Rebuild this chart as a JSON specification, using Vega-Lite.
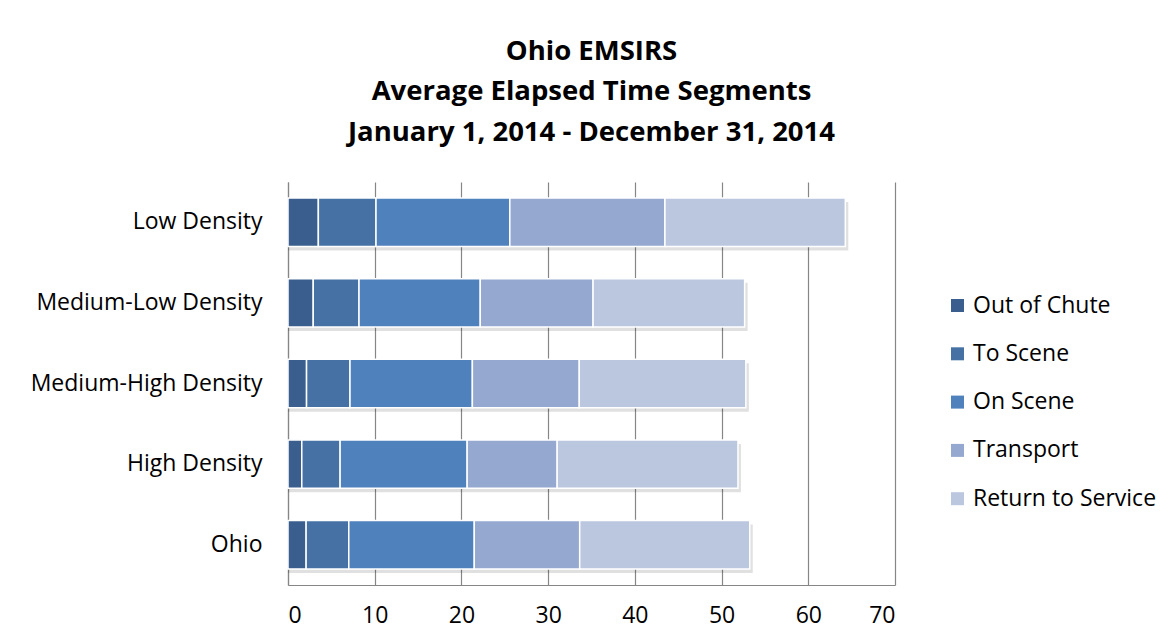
{
  "$schema": "https://vega.github.io/schema/vega-lite/v6.json",
  "autosize": {"type": "none"},
  "width": 607,
  "height": 403,
  "padding": {"left": 288, "top": 182, "right": 277, "bottom": 58},
  "background": "white",
  "title": {
    "text": ["Ohio EMSIRS", "Average Elapsed Time Segments", "January 1, 2014 - December 31, 2014"],
    "font": "Open Sans",
    "fontSize": 27.5,
    "fontWeight": "bold",
    "color": "#000000",
    "lineHeight": 40.5,
    "anchor": "middle",
    "offset": 36
  },
  "config": {
    "view": {"stroke": null},
    "font": "Open Sans"
  },
  "data": {
    "values": [
      {"area": "Low Density", "segment": "Out of Chute", "seq": 1, "minutes": 3.5},
      {"area": "Low Density", "segment": "To Scene", "seq": 2, "minutes": 6.65},
      {"area": "Low Density", "segment": "On Scene", "seq": 3, "minutes": 15.43},
      {"area": "Low Density", "segment": "Transport", "seq": 4, "minutes": 17.89},
      {"area": "Low Density", "segment": "Return to Service", "seq": 5, "minutes": 20.8},
      {"area": "Medium-Low Density", "segment": "Out of Chute", "seq": 1, "minutes": 2.91},
      {"area": "Medium-Low Density", "segment": "To Scene", "seq": 2, "minutes": 5.28},
      {"area": "Medium-Low Density", "segment": "On Scene", "seq": 3, "minutes": 13.98},
      {"area": "Medium-Low Density", "segment": "Transport", "seq": 4, "minutes": 13.01},
      {"area": "Medium-Low Density", "segment": "Return to Service", "seq": 5, "minutes": 17.48},
      {"area": "Medium-High Density", "segment": "Out of Chute", "seq": 1, "minutes": 2.14},
      {"area": "Medium-High Density", "segment": "To Scene", "seq": 2, "minutes": 5.01},
      {"area": "Medium-High Density", "segment": "On Scene", "seq": 3, "minutes": 14.11},
      {"area": "Medium-High Density", "segment": "Transport", "seq": 4, "minutes": 12.33},
      {"area": "Medium-High Density", "segment": "Return to Service", "seq": 5, "minutes": 19.21},
      {"area": "High Density", "segment": "Out of Chute", "seq": 1, "minutes": 1.59},
      {"area": "High Density", "segment": "To Scene", "seq": 2, "minutes": 4.42},
      {"area": "High Density", "segment": "On Scene", "seq": 3, "minutes": 14.65},
      {"area": "High Density", "segment": "Transport", "seq": 4, "minutes": 10.38},
      {"area": "High Density", "segment": "Return to Service", "seq": 5, "minutes": 20.85},
      {"area": "Ohio", "segment": "Out of Chute", "seq": 1, "minutes": 2.09},
      {"area": "Ohio", "segment": "To Scene", "seq": 2, "minutes": 4.92},
      {"area": "Ohio", "segment": "On Scene", "seq": 3, "minutes": 14.47},
      {"area": "Ohio", "segment": "Transport", "seq": 4, "minutes": 12.16},
      {"area": "Ohio", "segment": "Return to Service", "seq": 5, "minutes": 19.61}
    ]
  },
  "encoding": {
    "y": {
      "field": "area",
      "type": "nominal",
      "sort": ["Low Density", "Medium-Low Density", "Medium-High Density", "High Density", "Ohio"],
      "scale": {"paddingInner": 0.4, "paddingOuter": 0.2},
      "axis": {
        "title": null,
        "ticks": false,
        "domainColor": "#868686",
        "domainWidth": 1.2,
        "labelFont": "Open Sans",
        "labelFontSize": 23,
        "labelColor": "#000000",
        "labelPadding": 26,
        "labelLimit": 400
      }
    }
  },
  "layer": [
    {
      "mark": {"type": "bar", "color": "#000000", "opacity": 0.12, "xOffset": 3, "yOffset": 4},
      "encoding": {
        "x": {
          "aggregate": "sum",
          "field": "minutes",
          "type": "quantitative",
          "scale": {"domain": [0, 70]},
          "axis": {
            "title": null,
            "values": [0, 10, 20, 30, 40, 50, 60, 70],
            "ticks": false,
            "grid": true,
            "gridColor": "#868686",
            "gridWidth": 1.2,
            "domainColor": "#868686",
            "domainWidth": 1.2,
            "labelFont": "Open Sans",
            "labelFontSize": 23,
            "labelColor": "#000000",
            "labelPadding": 19
          }
        }
      }
    },
    {
      "mark": {"type": "bar", "stroke": "#ffffff", "strokeWidth": 1.5},
      "encoding": {
        "x": {
          "field": "minutes",
          "type": "quantitative",
          "stack": "zero",
          "scale": {"domain": [0, 70]},
          "axis": {
            "title": null,
            "values": [0, 10, 20, 30, 40, 50, 60, 70],
            "ticks": false,
            "grid": true,
            "gridColor": "#868686",
            "gridWidth": 1.2,
            "domainColor": "#868686",
            "domainWidth": 1.2,
            "labelFont": "Open Sans",
            "labelFontSize": 23,
            "labelColor": "#000000",
            "labelPadding": 19
          }
        },
        "color": {
          "field": "segment",
          "type": "nominal",
          "sort": ["Out of Chute", "To Scene", "On Scene", "Transport", "Return to Service"],
          "scale": {
            "domain": ["Out of Chute", "To Scene", "On Scene", "Transport", "Return to Service"],
            "range": ["#3A5F8E", "#4571A5", "#4F81BD", "#95A9D0", "#BBC7DF"]
          },
          "legend": {
            "title": null,
            "orient": "none",
            "legendX": 658,
            "legendY": 112,
            "symbolType": "square",
            "symbolSize": 169,
            "symbolStrokeWidth": 0,
            "labelFont": "Open Sans",
            "labelFontSize": 23,
            "labelColor": "#000000",
            "labelOffset": 4,
            "labelLimit": 400,
            "rowPadding": 24.3
          }
        },
        "order": {"field": "seq", "type": "quantitative"}
      }
    }
  ]
}
